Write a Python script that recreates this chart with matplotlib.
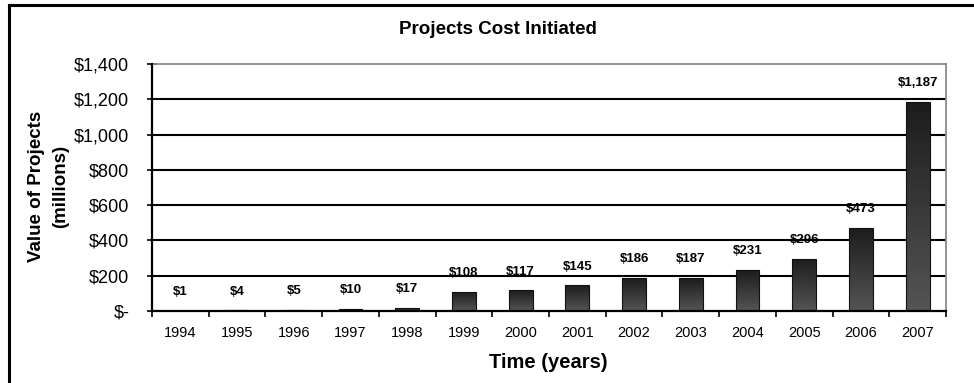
import numpy as np
import matplotlib
matplotlib.use("Agg")
import matplotlib.pyplot as plt
from matplotlib.lines import Line2D
from matplotlib.ticker import FixedLocator, FuncFormatter

years = ["1994", "1995", "1996", "1997", "1998", "1999", "2000",
         "2001", "2002", "2003", "2004", "2005", "2006", "2007"]
values = [1, 4, 5, 10, 17, 108, 117, 145, 186, 187, 231, 296, 473, 1187]
yticks = [0, 200, 400, 600, 800, 1000, 1200, 1400]
ytick_labels = ["$-", "$200", "$400", "$600", "$800", "$1,000", "$1,200", "$1,400"]

plt.rcParams['font.family'] = ['Liberation Sans', 'DejaVu Sans']

W, H = 974, 383
fig = plt.figure(figsize=(W / 100, H / 100), dpi=100)
fig.patch.set_facecolor('white')

ax = fig.add_axes([152 / W, 1 - 311 / H, (946 - 152) / W, (311 - 64) / H])
x = np.arange(len(years))

ax.set_xlim(-0.5, len(years) - 0.5)
ax.set_ylim(0, 1400)

# gridlines
for yv in yticks[1:-1]:
    ax.axhline(yv, color='black', lw=1.5, zorder=1)

bars = ax.bar(x, values, width=0.42, color='#333333', edgecolor='#111111',
              linewidth=0.8, zorder=3)

# vertical gradient fill for each bar
grad = np.linspace(0, 1, 256).reshape(-1, 1)
cmap = matplotlib.colors.LinearSegmentedColormap.from_list('g', ['#555555', '#1c1c1c'])
for b in bars:
    bx, by = b.get_x(), b.get_y()
    bw, bh = b.get_width(), b.get_height()
    im = ax.imshow(grad, extent=[bx, bx + bw, by, by + bh], origin='lower',
                   cmap=cmap, aspect='auto', zorder=3.5)
    im.set_clip_path(b)
    b.set_facecolor('none')
    b.set_zorder(4)

ax.set_xlim(-0.5, len(years) - 0.5)
ax.set_ylim(0, 1400)

for xi, v in zip(x, values):
    ax.annotate(f"${v:,}", (xi, v), xytext=(0, 13.5), textcoords='offset points',
                ha='center', va='center', fontsize=9.5, fontweight='bold', zorder=5)

# y axis
ax.yaxis.set_major_locator(FixedLocator(yticks))
ax.set_yticklabels(ytick_labels, fontsize=13)
ax.tick_params(axis='y', direction='inout', length=7.5, width=1.2, pad=12.5)

# x axis: ticks at category boundaries, labels at centres
ax.xaxis.set_major_locator(FixedLocator(np.arange(len(years) + 1) - 0.5))
ax.xaxis.set_major_formatter(FuncFormatter(lambda v, p: ""))
ax.xaxis.set_minor_locator(FixedLocator(x))
ax.set_xticklabels(years, minor=True, fontsize=10.5)
ax.tick_params(axis='x', which='major', direction='out', length=4, width=1.2)
ax.tick_params(axis='x', which='minor', length=0, pad=11)

for s in ['left', 'bottom']:
    ax.spines[s].set_color('black')
    ax.spines[s].set_linewidth(1.6)
for s in ['top', 'right']:
    ax.spines[s].set_color('#8a8a8a')
    ax.spines[s].set_linewidth(1.3)
ax.spines['left'].set_zorder(6)
ax.spines['bottom'].set_zorder(6)

fig.text(498 / W, 1 - 30 / H, "Projects Cost Initiated", ha='center', va='center',
         fontsize=13.5, fontweight='bold')
fig.text(548 / W, 1 - 363 / H, "Time (years)", ha='center', va='center',
         fontsize=14.5, fontweight='bold')
fig.text(49 / W, 1 - 186 / H, "Value of Projects\n(millions)", ha='center', va='center',
         rotation=90, fontsize=13.5, fontweight='bold', linespacing=1.55,
         multialignment='center')

# outer frame (left and top)
fig.add_artist(Line2D([9 / W, 9 / W], [0, 1 - 5 / H], transform=fig.transFigure,
                      color='black', lw=2.2))
fig.add_artist(Line2D([9 / W, 1], [1 - 5 / H, 1 - 5 / H], transform=fig.transFigure,
                      color='black', lw=2.2))

fig.savefig("out.png", dpi=100, facecolor='white')
